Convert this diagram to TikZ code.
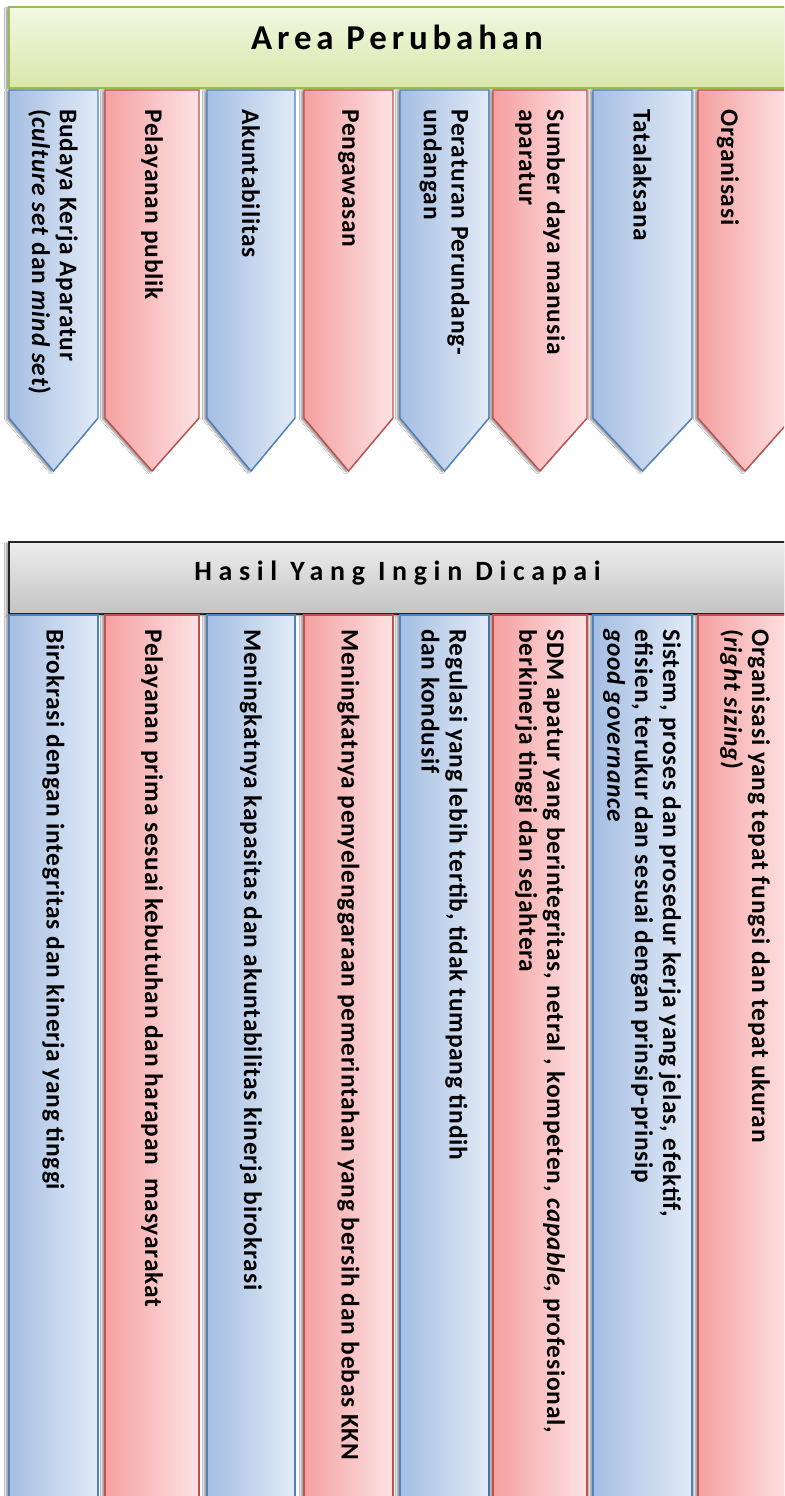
\documentclass[tikz,border=0pt]{standalone}
\usepackage{fontspec}
\setmainfont{Carlito}
\newfontfamily\colfont[LetterSpace=3.2]{Carlito}
\newfontfamily\areafont[LetterSpace=14]{Carlito}
\newfontfamily\hasilfont[LetterSpace=24]{Carlito}
\usetikzlibrary{shadows.blur}

\definecolor{blueline}{HTML}{4F81BD}
\definecolor{bluedark}{HTML}{A5BEE2}
\definecolor{bluelight}{HTML}{E2EBF7}
\definecolor{redline}{HTML}{C0504D}
\definecolor{reddark}{HTML}{F5A0A0}
\definecolor{redlight}{HTML}{FDE3E4}
\definecolor{greenline}{HTML}{9BBB59}
\definecolor{greentop}{HTML}{F3F8E2}
\definecolor{greenbot}{HTML}{DAE6AA}
\definecolor{graytop}{HTML}{EDEDED}
\definecolor{graybot}{HTML}{C3C3C3}

\begin{document}
\begin{tikzpicture}[
    x=1bp, y=-1bp,
    colshadow/.style={blur shadow={shadow xshift=-2.5bp, shadow yshift=-1bp, shadow blur steps=6, shadow opacity=45}},
    bluecol/.style={draw=blueline, line width=1.4bp, left color=bluedark, right color=bluelight, colshadow},
    redcol/.style={draw=redline, line width=1.4bp, left color=reddark, right color=redlight, colshadow},
    coltext/.style={rotate=-90, anchor=west, align=left, inner sep=0pt, font=\colfont\fontsize{25.5}{28}\selectfont\bfseries},
    hdrtitle/.style={anchor=base, inner sep=0pt}
]
\fill[white] (0,0) rectangle (784,1496);
\useasboundingbox (0,0) rectangle (784,1496);
\clip (0,0) rectangle (784,1496);

% area perubahan
\path[draw=greenline, line width=1.4bp, top color=greentop, bottom color=greenbot, colshadow] (9,7) rectangle (800,88);
\node[hdrtitle, font=\areafont\bfseries\fontsize{35}{40}\selectfont] (areatitle) at (397,49.5) {Area Perubahan};

\path[bluecol] (9,90) -- (98,90) -- (98,418) -- (53.5,471) -- (9,418) -- cycle;
\path[redcol] (105,90) -- (199,90) -- (199,418) -- (152,471) -- (105,418) -- cycle;
\path[bluecol] (207,90) -- (295,90) -- (295,418) -- (251,471) -- (207,418) -- cycle;
\path[redcol] (304,90) -- (393,90) -- (393,418) -- (348.5,471) -- (304,418) -- cycle;
\path[bluecol] (400,90) -- (489,90) -- (489,418) -- (444.5,471) -- (400,418) -- cycle;
\path[redcol] (493,90) -- (587,90) -- (587,418) -- (540,471) -- (493,418) -- cycle;
\path[bluecol] (593,90) -- (692,90) -- (692,418) -- (642.5,471) -- (593,418) -- cycle;
\path[redcol] (698,90) -- (792,90) -- (792,418) -- (745,471) -- (698,418) -- cycle;

\node[coltext] (budaya) at (53,109) {Budaya Kerja Aparatur\\(\textit{culture set} dan \textit{mind set})};
\node[coltext] (pelayanan) at (152,109) {Pelayanan publik};
\node[coltext] (akuntabilitas) at (251,109) {Akuntabilitas};
\node[coltext] (pengawasan) at (348.5,109) {Pengawasan};
\node[coltext] (peraturan) at (444.5,109) {Peraturan Perundang-\\undangan};
\node[coltext] (sdm) at (540,109) {Sumber daya manusia\\aparatur};
\node[coltext] (tatalaksana) at (642.5,109) {Tatalaksana};
\node[coltext] (organisasi) at (728,109) {Organisasi};

% hasil yang ingin dicapai
\path[draw=black!85, line width=1.4bp, top color=graytop, bottom color=graybot, colshadow] (9,542) rectangle (800,614);
\node[hdrtitle, font=\hasilfont\bfseries\fontsize{28}{34}\selectfont] (hasiltitle) at (397.5,580) {Hasil Yang Ingin Dicapai};

\path[bluecol] (9,615) rectangle (98,1510);
\path[redcol] (105,615) rectangle (199,1510);
\path[bluecol] (207,615) rectangle (295,1510);
\path[redcol] (304,615) rectangle (393,1510);
\path[bluecol] (400,615) rectangle (489,1510);
\path[redcol] (493,615) rectangle (587,1510);
\path[bluecol] (593,615) rectangle (692,1510);
\path[redcol] (698,615) rectangle (792,1510);

\node[coltext] (birokrasi) at (53.5,629) {Birokrasi dengan integritas dan kinerja yang tinggi};
\node[coltext] (prima) at (152,629) {Pelayanan prima sesuai kebutuhan dan harapan\ \ masyarakat};
\node[coltext] (kapasitas) at (251,629) {Meningkatnya kapasitas dan akuntabilitas kinerja birokrasi};
\node[coltext] (bersih) at (348.5,629) {Meningkatnya penyelenggaraan pemerintahan yang bersih dan bebas KKN};
\node[coltext] (regulasi) at (444.5,629) {Regulasi yang lebih tertib, tidak tumpang tindih\\dan kondusif};
\node[coltext] (sdmapatur) at (540,629) {SDM apatur yang berintegritas, netral , kompeten, \textit{capable}, profesional,\\berkinerja tinggi dan sejahtera};
\node[coltext] (sistem) at (642,629) {Sistem, proses dan prosedur kerja yang jelas, efektif,\\efisien, terukur dan sesuai dengan prinsip-prinsip\\\textit{good governance}};
\node[coltext] (tepat) at (745,629) {Organisasi yang tepat fungsi dan tepat ukuran\\(\textit{right sizing})};
\end{tikzpicture}
\end{document}
